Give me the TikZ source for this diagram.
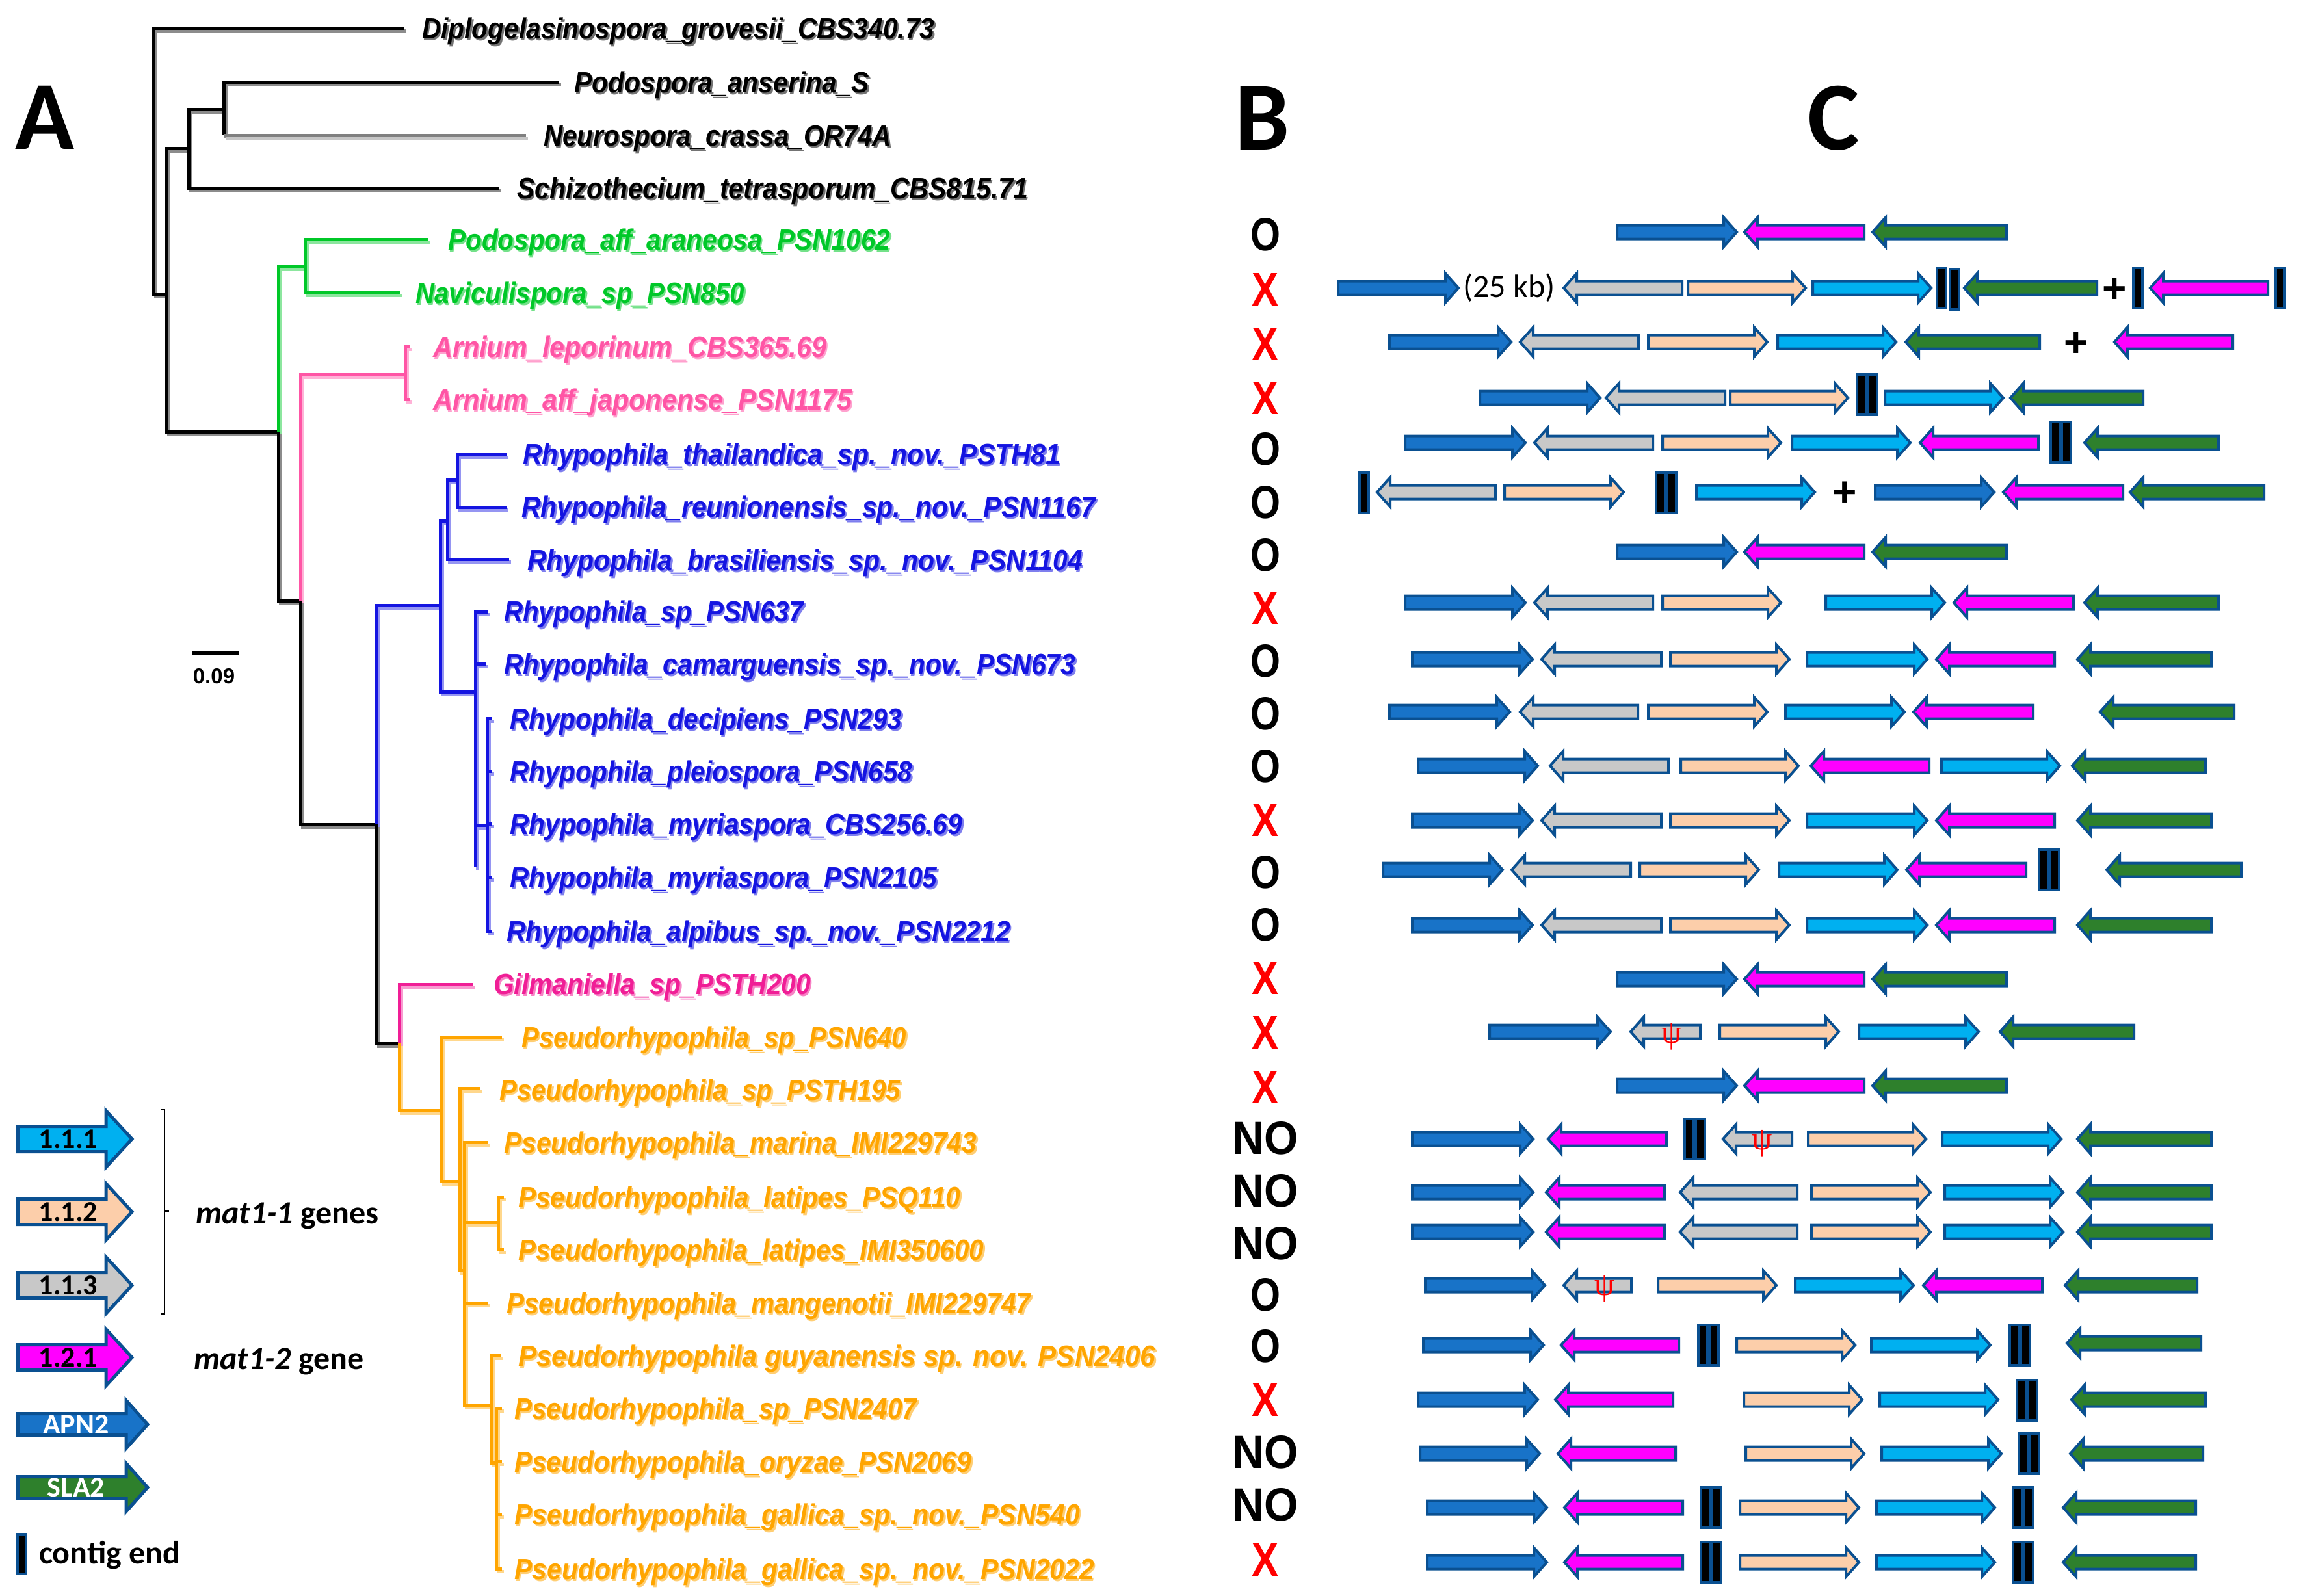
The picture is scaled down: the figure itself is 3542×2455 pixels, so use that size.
\documentclass[tikz,border=0pt]{standalone}
\usepackage{fontspec}
\newfontfamily\calfnt{Carlito}
\newfontfamily\arifnt{Liberation Sans}
\newfontfamily\serfnt{Liberation Serif}
\definecolor{gb}{RGB}{10,80,145}
\definecolor{apn}{RGB}{24,115,200}
\definecolor{sla}{RGB}{46,128,44}
\definecolor{mag}{RGB}{255,0,255}
\definecolor{g111}{RGB}{0,176,240}
\definecolor{g112}{RGB}{252,206,170}
\definecolor{g113}{RGB}{200,200,200}
\definecolor{tgreen}{RGB}{0,200,40}
\definecolor{tpink}{RGB}{255,85,165}
\definecolor{tblue}{RGB}{20,20,225}
\definecolor{tmag}{RGB}{240,30,150}
\definecolor{torange}{RGB}{255,165,0}
\definecolor{ngray}{RGB}{128,128,128}
\definecolor{xred}{RGB}{255,0,0}
\tikzset{
 passS/.style={br/.style={line width=5pt,draw=##1!45}, lab/.style={text=##1!55}},
 passM/.style={br/.style={line width=5pt,draw=##1}, lab/.style={text=##1}},
 labf/.style={font=\arifnt\bfseries\itshape\fontsize{45}{45}\selectfont, inner sep=0pt, anchor=base west},
 gene/.style={draw=gb, line width=4pt, line join=miter},
 ce/.style={draw=gb, fill=black, line width=4pt},
 mk/.style={font=\arifnt\bfseries, inner sep=0pt},
 lgt/.style={font=\calfnt\bfseries\fontsize{44}{44}\selectfont, inner sep=0pt},
 captxt/.style={font=\calfnt\bfseries\fontsize{50}{50}\selectfont, inner sep=0pt, anchor=base west},
 panel/.style={font=\calfnt\bfseries\fontsize{150}{150}\selectfont, inner sep=0pt, anchor=base},
}
% tree
\newcommand\treebody{%
\draw[br=black] (622,43) -- (236,43) -- (236,452) -- (256,452);
\draw[br=black] (290,228) -- (256,228) -- (256,664) -- (428,664) -- (428,924) -- (462,924) -- (462,1268) -- (579,1268) -- (579,1605) -- (614,1605);
\draw[br=black] (344,168) -- (290,168) -- (290,289) -- (767,289);
\draw[br=black] (860,126) -- (344,126) -- (344,208);
\draw[br=ngray] (344,208) -- (809,208);
\draw[br=tgreen] (428,664) -- (428,410) -- (469,410);
\draw[br=tgreen] (658,368) -- (469,368) -- (469,450) -- (615,450);
\draw[br=tpink] (462,924) -- (462,576) -- (623,576);
\draw[br=tpink] (631,533) -- (623,533) -- (623,614) -- (631,614);
\draw[br=tblue] (579,1268) -- (579,931) -- (677,931);
\draw[br=tblue] (688,801) -- (677,801) -- (677,1064) -- (731,1064);
\draw[br=tblue] (703,738) -- (688,738) -- (688,860) -- (783,860);
\draw[br=tblue] (779,699) -- (703,699) -- (703,780) -- (779,780);
\draw[br=tblue] (751,941) -- (731,941) -- (731,1334);
\draw[br=tblue] (731,1021) -- (748,1021);
\draw[br=tblue] (731,1269) -- (749,1269);
\draw[br=tblue] (757,1105) -- (749,1105) -- (749,1432) -- (757,1432);
\draw[br=tblue] (749,1186) -- (757,1186) (749,1267) -- (757,1267) (749,1349) -- (757,1349);
\draw[br=tmag] (614,1605) -- (614,1514) -- (728,1514);
\draw[br=torange] (614,1605) -- (614,1708) -- (679,1708);
\draw[br=torange] (772,1595) -- (679,1595) -- (679,1817) -- (707,1817);
\draw[br=torange] (739,1674) -- (707,1674) -- (707,1954) -- (714,1954);
\draw[br=torange] (750,1757) -- (714,1757) -- (714,2161) -- (756,2161);
\draw[br=torange] (714,1880) -- (766,1880);
\draw[br=torange] (775,1841) -- (766,1841) -- (766,1922) -- (775,1922);
\draw[br=torange] (714,2004) -- (750,2004);
\draw[br=torange] (770,2085) -- (756,2085) -- (756,2250) -- (763,2250);
\draw[br=torange] (772,2166) -- (763,2166) -- (763,2413) -- (772,2413);
\draw[br=torange] (763,2248) -- (772,2248) (763,2329) -- (772,2329);
}
\newcommand\tip[6]{\node[labf,lab=#5] (#1) at (#2,#3+16) {\resizebox{#4pt}{\height}{#6}};}
\newcommand\labelsbody{%
\tip{t1}{649}{43}{788}{black}{Diplogelasinospora\_grovesii\_CBS340.73}
\tip{t2}{883}{126}{454}{black}{Podospora\_anserina\_S}
\tip{t3}{836}{208}{535}{black}{Neurospora\_crassa\_OR74A}
\tip{t4}{795}{289}{786}{black}{Schizothecium\_tetrasporum\_CBS815.71}
\tip{t5}{689}{368}{680}{tgreen}{Podospora\_aff\_araneosa\_PSN1062}
\tip{t6}{639}{450}{506}{tgreen}{Naviculispora\_sp\_PSN850}
\tip{t7}{666}{533}{605}{tpink}{Arnium\_leporinum\_CBS365.69}
\tip{t8}{666}{614}{644}{tpink}{Arnium\_aff\_japonense\_PSN1175}
\tip{t9}{804}{698}{827}{tblue}{Rhypophila\_thailandica\_sp.\_nov.\_PSTH81}
\tip{t10}{802}{779}{883}{tblue}{Rhypophila\_reunionensis\_sp.\_nov.\_PSN1167}
\tip{t11}{811}{861}{854}{tblue}{Rhypophila\_brasiliensis\_sp.\_nov.\_PSN1104}
\tip{t12}{775}{940}{461}{tblue}{Rhypophila\_sp\_PSN637}
\tip{t13}{775}{1021}{879}{tblue}{Rhypophila\_camarguensis\_sp.\_nov.\_PSN673}
\tip{t14}{784}{1105}{603}{tblue}{Rhypophila\_decipiens\_PSN293}
\tip{t15}{784}{1186}{619}{tblue}{Rhypophila\_pleiospora\_PSN658}
\tip{t16}{784}{1267}{696}{tblue}{Rhypophila\_myriaspora\_CBS256.69}
\tip{t17}{784}{1349}{657}{tblue}{Rhypophila\_myriaspora\_PSN2105}
\tip{t18}{779}{1432}{775}{tblue}{Rhypophila\_alpibus\_sp.\_nov.\_PSN2212}
\tip{t19}{759}{1513}{488}{tmag}{Gilmaniella\_sp\_PSTH200}
\tip{t20}{802}{1595}{592}{torange}{Pseudorhypophila\_sp\_PSN640}
\tip{t21}{768}{1676}{617}{torange}{Pseudorhypophila\_sp\_PSTH195}
\tip{t22}{775}{1757}{727}{torange}{Pseudorhypophila\_marina\_IMI229743}
\tip{t23}{797}{1841}{680}{torange}{Pseudorhypophila\_latipes\_PSQ110}
\tip{t24}{797}{1922}{716}{torange}{Pseudorhypophila\_latipes\_IMI350600}
\tip{t25}{779}{2004}{806}{torange}{Pseudorhypophila\_mangenotii\_IMI229747}
\tip{t26}{797}{2085}{980}{torange}{Pseudorhypophila guyanensis sp. nov. PSN2406}
\tip{t27}{791}{2166}{619}{torange}{Pseudorhypophila\_sp\_PSN2407}
\tip{t28}{791}{2248}{703}{torange}{Pseudorhypophila\_oryzae\_PSN2069}
\tip{t29}{791}{2329}{870}{torange}{Pseudorhypophila\_gallica\_sp.\_nov.\_PSN540}
\tip{t30}{791}{2413}{892}{torange}{Pseudorhypophila\_gallica\_sp.\_nov.\_PSN2022}
}
% genes
\newcommand\gR[4]{\draw[gene,fill=#1] (#2,#4-10.5) -- (#3-20,#4-10.5) -- (#3-20,#4-22.5) -- (#3,#4) -- (#3-20,#4+22.5) -- (#3-20,#4+10.5) -- (#2,#4+10.5) -- cycle;}
\newcommand\gL[4]{\draw[gene,fill=#1] (#3,#4-10.5) -- (#2+20,#4-10.5) -- (#2+20,#4-22.5) -- (#2,#4) -- (#2+20,#4+22.5) -- (#2+20,#4+10.5) -- (#3,#4+10.5) -- cycle;}
\newcommand\apn[3]{\gR{apn}{#1}{#2}{#3}}
\newcommand\sla[3]{\gL{sla}{#1}{#2}{#3}}
\newcommand\gmag[3]{\gL{mag}{#1}{#2}{#3}}
\newcommand\gthree[3]{\gL{g113}{#1}{#2}{#3}}
\newcommand\gtwo[3]{\gR{g112}{#1}{#2}{#3}}
\newcommand\gone[3]{\gR{g111}{#1}{#2}{#3}}
\newcommand\ces[2]{\draw[ce] (#1-7,#2-31) rectangle (#1+7,#2+31);}
\newcommand\ced[2]{\ces{#1-8.5}{#2}\ces{#1+8.5}{#2}}
\newcommand\rowA[1]{\apn{2487}{2671}{#1}\gmag{2683}{2867}{#1}\sla{2880}{3086}{#1}}
\newcommand\rowB[1]{\apn{2172}{2357}{#1}\gthree{2371}{2555}{#1}\gtwo{2569}{2752}{#1}\gone{2779}{2964}{#1}\gmag{2978}{3160}{#1}\sla{3195}{3401}{#1}}
\newcommand\rowC[1]{\apn{2172}{2358}{#1}\gmag{2378}{2560}{#1}\gthree{2584}{2764}{#1}\gtwo{2786}{2969}{#1}\gone{2991}{3173}{#1}\sla{3195}{3401}{#1}}
\newcommand\rowD[1]{\apn{2195}{2379}{#1}\gmag{2406}{2588}{#1}\ced{2631}{#1}\gtwo{2676}{2859}{#1}\gone{2886}{3068}{#1}\ced{3111}{#1}\sla{3173}{3377}{#1}}
\newcommand\mO[2]{\node[mk] (#1) at (1946,#2) {\resizebox{46pt}{50pt}{O}};}
\newcommand\mX[2]{\node[mk,text=xred] (#1) at (1946,#2) {\resizebox{41pt}{50pt}{X}};}
\newcommand\mNO[2]{\node[mk] (#1) at (1946,#2) {\resizebox{101pt}{50pt}{NO}};}
\newcommand\lgR[7]{\draw[gene,line width=5pt,fill=#7] (#1,#3-#4) -- (#2-#6,#3-#4) -- (#2-#6,#3-#5) -- (#2,#3) -- (#2-#6,#3+#5) -- (#2-#6,#3+#4) -- (#1,#3+#4) -- cycle;}
\begin{document}
\begin{tikzpicture}[x=1pt,y=-1pt]
\fill[white] (0,0) rectangle (3542,2455);
\useasboundingbox (0,0) rectangle (3542,2455);
% panel letters
\node[panel] (pA) at (69,229) {A};
\node[panel] (pB) at (1942,230) {B};
\node[panel] (pC) at (2820,230) {C};
% tree with shadow
\begin{scope}[passS, xshift=3pt, yshift=-4pt]
\treebody
\end{scope}
\begin{scope}[passS, xshift=2.5pt, yshift=-3pt]
\labelsbody
\end{scope}
\begin{scope}[passM]
\treebody
\labelsbody
\end{scope}
% scale bar
\draw[line width=6pt] (296,1005) -- (367,1005);
\node[font=\arifnt\bfseries\fontsize{33}{33}\selectfont, inner sep=0pt] (sc) at (329,1040) {0.09};
% legend
\lgR{27.5}{203}{1752}{19.5}{43.5}{40}{g111}
\lgR{27.5}{203}{1864}{19.5}{43.5}{40}{g112}
\lgR{27.5}{203}{1977}{19.5}{43.5}{40}{g113}
\lgR{27.5}{203}{2088}{19.5}{43.5}{40}{mag}
\lgR{27.5}{227}{2191}{16.5}{37}{33}{apn}
\lgR{27.5}{227}{2288}{16.5}{37}{33}{sla}
\node[lgt] (l1) at (105,1752) {1.1.1};
\node[lgt] (l2) at (105,1864) {1.1.2};
\node[lgt] (l3) at (105,1977) {1.1.3};
\node[lgt] (l4) at (105,2088) {1.2.1};
\node[lgt,text=white] (l5) at (117,2191) {APN2};
\node[lgt,text=white] (l6) at (117,2288) {SLA2};
\draw[ce] (27,2360) rectangle (40,2421);
\node[captxt] (lce) at (60,2405) {contig end};
\draw[line width=2.5pt] (247,1707) -- (253,1707) -- (253,2021) -- (247,2021);
\draw[line width=2.5pt] (253,1863) -- (260,1863);
\node[captxt] (lm1) at (301,1882) {{\itshape mat1-1} genes};
\node[captxt] (lm2) at (298,2106) {{\itshape mat1-2} gene};
% B column
\mO{b1}{361}\mX{b2}{445}\mX{b3}{529}\mX{b4}{612}\mO{b5}{691}\mO{b6}{773}\mO{b7}{854}
\mX{b8}{935}\mO{b9}{1017}\mO{b10}{1098}\mO{b11}{1179}\mX{b12}{1261}\mO{b13}{1342}
\mO{b14}{1423}\mX{b15}{1504}\mX{b16}{1588}\mX{b17}{1672}\mNO{b18}{1751}\mNO{b19}{1832}
\mNO{b20}{1913}\mO{b21}{1992}\mO{b22}{2071}\mX{b23}{2153}\mNO{b24}{2234}\mNO{b25}{2315}\mX{b26}{2399}
% C column
\rowA{357}
% r2
\apn{2058}{2243}{443}
\node[font=\calfnt\fontsize{50}{50}\selectfont, inner sep=0pt] (kb) at (2321,443) {(25 kb)};
\gthree{2405}{2587}{443}\gtwo{2596}{2777}{443}\gone{2788}{2970}{443}
\ces{2986}{443}\ces{3006}{445}
\sla{3021}{3225}{443}
\node[font=\arifnt\bfseries\fontsize{64}{64}\selectfont, inner sep=0pt] (p1) at (3252,447) {+};
\ces{3288}{443}\gmag{3307}{3488}{443}\ces{3507}{443}
% r3
\apn{2137}{2324}{526}\gthree{2338}{2520}{526}\gtwo{2535}{2718}{526}\gone{2734}{2916}{526}\sla{2931}{3137}{526}
\node[font=\arifnt\bfseries\fontsize{64}{64}\selectfont, inner sep=0pt] (p2) at (3193,530) {+};
\gmag{3252}{3434}{526}
% r4
\apn{2276}{2461}{612}\gthree{2470}{2653}{612}\gtwo{2661}{2842}{612}\ced{2871}{607}\gone{2899}{3081}{612}\sla{3092}{3296}{612}
% r5
\apn{2161}{2346}{681}\gthree{2360}{2542}{681}\gtwo{2557}{2739}{681}\gone{2756}{2938}{681}\gmag{2953}{3135}{681}\ced{3169}{680}\sla{3206}{3412}{681}
% r6
\ces{2098}{758}\gthree{2118}{2300}{757}\gtwo{2314}{2497}{757}\ced{2562}{758}\gone{2609}{2791}{757}
\node[font=\arifnt\bfseries\fontsize{64}{64}\selectfont, inner sep=0pt] (p3) at (2837,760) {+};
\apn{2884}{3067}{757}\gmag{3081}{3265}{757}\sla{3276}{3482}{757}
% r7
\rowA{849}
% r8
\apn{2161}{2346}{927}\gthree{2360}{2542}{927}\gtwo{2557}{2739}{927}\gone{2808}{2991}{927}\gmag{3005}{3189}{927}\sla{3206}{3412}{927}
% r9
\rowB{1014}
% r10
\apn{2137}{2322}{1095}\gthree{2338}{2519}{1095}\gtwo{2535}{2718}{1095}\gone{2746}{2929}{1095}\gmag{2943}{3127}{1095}\sla{3230}{3436}{1095}
% r11
\apn{2181}{2365}{1178}\gthree{2384}{2566}{1178}\gtwo{2585}{2766}{1178}\gmag{2785}{2967}{1178}\gone{2986}{3168}{1178}\sla{3187}{3392}{1178}
% r12
\rowB{1262}
% r13
\apn{2127}{2311}{1338}\gthree{2325}{2508}{1338}\gtwo{2522}{2705}{1338}\gone{2736}{2918}{1338}\gmag{2932}{3116}{1338}\ced{3151}{1338}\sla{3240}{3447}{1338}
% r14
\rowB{1423}
% r15
\rowA{1506}
% r16
\apn{2291}{2477}{1587}\gthree{2508}{2615}{1587}
\node[text=xred, font=\serfnt\fontsize{50}{50}\selectfont, inner sep=0pt] (ps1) at (2571,1595) {ψ};
\gtwo{2645}{2828}{1587}\gone{2859}{3043}{1587}\sla{3076}{3282}{1587}
% r17
\rowA{1670}
% r18
\apn{2172}{2358}{1752}\gmag{2381}{2563}{1752}\ced{2606}{1752}\gthree{2650}{2756}{1752}
\node[text=xred, font=\serfnt\fontsize{50}{50}\selectfont, inner sep=0pt] (ps2) at (2710,1759) {ψ};
\gtwo{2781}{2962}{1752}\gone{2987}{3170}{1752}\sla{3195}{3401}{1752}
% r19 r20
\rowC{1834}
\rowC{1895}
% r21
\apn{2192}{2376}{1977}\gthree{2405}{2509}{1977}
\node[text=xred, font=\serfnt\fontsize{50}{50}\selectfont, inner sep=0pt] (ps3) at (2468,1983) {ψ};
\gtwo{2550}{2732}{1977}\gone{2761}{2943}{1977}\gmag{2958}{3141}{1977}\sla{3176}{3379}{1977}
% r22
\apn{2189}{2374}{2069}\gmag{2401}{2582}{2069}\ced{2627}{2069}\gtwo{2671}{2853}{2069}\gone{2878}{3061}{2069}\ced{3106}{2069}\sla{3179}{3385}{2066}
% r23
\apn{2181}{2365}{2153}\gmag{2392}{2573}{2153}\gtwo{2682}{2864}{2153}\gone{2891}{3073}{2153}\ced{3117}{2154}\sla{3186}{3392}{2153}
% r24
\apn{2184}{2368}{2236}\gmag{2396}{2577}{2236}\gtwo{2685}{2867}{2236}\gone{2894}{3078}{2236}\ced{3120}{2236}\sla{3184}{3388}{2236}
% r25 r26
\rowD{2319}
\rowD{2403}
\end{tikzpicture}
\end{document}
